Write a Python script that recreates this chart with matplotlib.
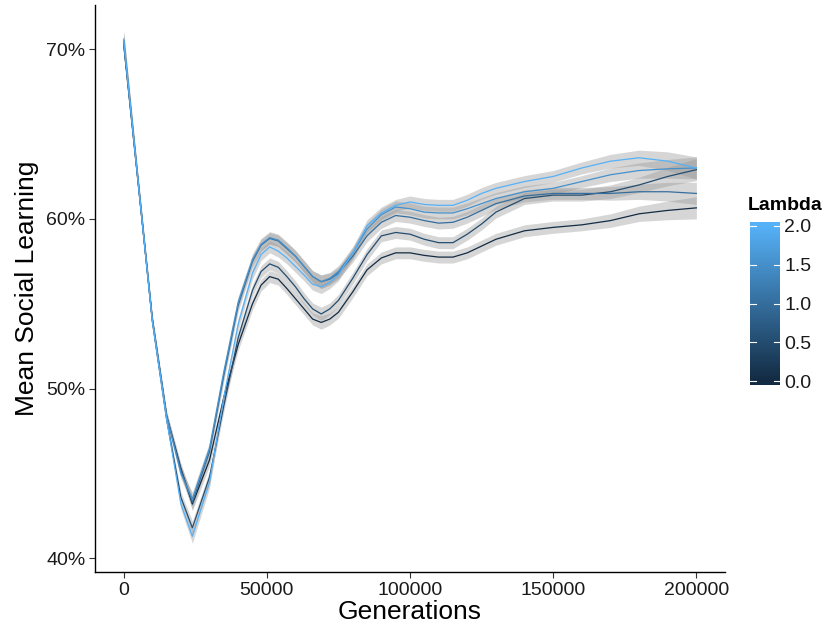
import numpy as np
import matplotlib
matplotlib.use("Agg")
import matplotlib.pyplot as plt
from matplotlib.colors import LinearSegmentedColormap, Normalize
from matplotlib.ticker import FuncFormatter

plt.rcParams["font.family"] = ["Liberation Sans", "DejaVu Sans"]

# generations (x) at which the smoothed curves were read
generations = [0, 5000, 10000, 15000, 20000, 24000, 30000, 35000, 40000, 45000,
               48000, 51000, 54000, 57000, 60000, 63000, 66000, 69000, 72000, 75000,
               80000, 85000, 90000, 95000, 100000, 105000, 110000, 115000, 120000,
               125000, 130000, 140000, 150000, 160000, 170000, 180000, 190000, 200000]

lambdas = [0.0, 0.5, 1.0, 1.5, 2.0]

# mean social learning (%) per lambda
sl_0_0 = [70.3, 62.2, 54.1, 48.4, 45.3, 43.2, 45.8, 49.5, 52.6, 55.0,
          56.1, 56.6, 56.45, 55.9, 55.3, 54.7, 54.1, 53.9, 54.1, 54.5,
          55.7, 57.0, 57.7, 58.0, 58.0, 57.85, 57.75, 57.75, 58.0,
          58.4, 58.8, 59.3, 59.5, 59.65, 59.9, 60.3, 60.5, 60.65]
sl_0_5 = [70.5, 62.3, 54.0, 48.2, 43.6, 41.8, 44.8, 49.0, 53.0, 55.8,
          56.9, 57.35, 57.15, 56.6, 56.0, 55.3, 54.7, 54.4, 54.7, 55.2,
          56.5, 57.9, 59.0, 59.2, 59.1, 58.8, 58.6, 58.6, 59.1,
          59.7, 60.4, 61.2, 61.4, 61.4, 61.6, 62.0, 62.5, 62.9]
sl_1_0 = [70.4, 62.3, 54.1, 48.4, 45.2, 43.3, 46.3, 50.8, 54.9, 57.5,
          58.45, 58.85, 58.7, 58.25, 57.8, 57.2, 56.6, 56.3, 56.45, 56.8,
          57.8, 59.0, 59.8, 60.2, 60.1, 59.9, 59.75, 59.8, 60.1,
          60.5, 60.9, 61.35, 61.5, 61.5, 61.5, 61.6, 61.6, 61.5]
sl_1_5 = [70.5, 62.3, 54.1, 48.4, 45.0, 43.5, 46.5, 51.0, 55.1, 57.6,
          58.5, 58.9, 58.75, 58.3, 57.8, 57.2, 56.6, 56.3, 56.5, 56.9,
          58.0, 59.4, 60.25, 60.7, 60.6, 60.4, 60.35, 60.35, 60.6,
          60.9, 61.2, 61.6, 61.8, 62.2, 62.6, 62.85, 62.95, 63.0]
sl_2_0 = [70.6, 62.3, 54.0, 48.2, 43.2, 41.3, 44.5, 49.5, 53.8, 56.8,
          57.9, 58.35, 58.1, 57.7, 57.2, 56.7, 56.15, 56.0, 56.25, 56.7,
          58.0, 59.6, 60.35, 60.8, 61.0, 60.85, 60.8, 60.8, 61.1,
          61.5, 61.8, 62.2, 62.5, 63.0, 63.4, 63.6, 63.4, 63.0]

# half width of the confidence ribbon (%)
ribbon_half = [0.5, 0.3, 0.25, 0.25, 0.3, 0.4, 0.35, 0.35, 0.35, 0.35,
               0.35, 0.35, 0.35, 0.35, 0.35, 0.35, 0.35, 0.4, 0.35, 0.35,
               0.35, 0.35, 0.35, 0.35, 0.35, 0.35, 0.35, 0.35, 0.35,
               0.35, 0.35, 0.35, 0.35, 0.35, 0.4, 0.45, 0.55, 0.65]

series = [sl_0_0, sl_0_5, sl_1_0, sl_1_5, sl_2_0]

cmap = LinearSegmentedColormap.from_list("lam", ["#132B43", "#56B1F7"])
norm = Normalize(0, 2)

fig = plt.figure(figsize=(8.4, 6.37), dpi=100)
ax = fig.add_axes([95 / 840, 65 / 637, 630 / 840, 567 / 637])

x = np.array(generations)
hw = np.array(ribbon_half)
for lam, vals in zip(lambdas, series):
    y = np.array(vals)
    ax.fill_between(x, y - hw, y + hw, color="#999999", alpha=0.4, linewidth=0)
    ax.plot(x, y, color=cmap(norm(lam)), linewidth=0.9)

ax.set_xlim(-10000, 210000)
ax.set_ylim(39.2, 72.6)
ax.set_xticks([0, 50000, 100000, 150000, 200000])
ax.set_yticks([40, 50, 60, 70])
ax.yaxis.set_major_formatter(FuncFormatter(lambda v, p: f"{v:.0f}%"))
for s in ["top", "right"]:
    ax.spines[s].set_visible(False)
for s in ["left", "bottom"]:
    ax.spines[s].set_linewidth(1.0)
ax.tick_params(direction="out", length=4, width=0.8, color="#333333",
               labelsize=14, labelcolor="#1a1a1a", pad=3)
ax.set_xlabel("Generations", fontsize=19, labelpad=1)
ax.set_ylabel("Mean Social Learning", fontsize=19, labelpad=5)

# colour bar legend
cax = fig.add_axes([750 / 840, (637 - 385) / 637, 30 / 840, 163 / 637])
grad = np.linspace(2.05, -0.05, 200).reshape(-1, 1)
cax.imshow(np.clip(grad, 0, 2), aspect="auto", cmap=cmap, norm=norm,
           extent=[0, 1, -0.05, 2.05])
cax.set_xlim(0, 1)
cax.set_ylim(-0.05, 2.05)
cax.set_xticks([])
for s in cax.spines.values():
    s.set_visible(False)
cbar_ticks = [0.0, 0.5, 1.0, 1.5, 2.0]
cax.set_yticks(cbar_ticks)
cax.set_yticklabels([f"{t:.1f}" for t in cbar_ticks])
cax.yaxis.tick_right()
for t in cbar_ticks:
    cax.plot([0, 0.2], [t, t], color="white", linewidth=0.8)
    cax.plot([0.8, 1], [t, t], color="white", linewidth=0.8)
cax.tick_params(axis="y", length=0, labelsize=14, labelcolor="#1a1a1a", pad=3)
fig.text(748 / 840, (637 - 206) / 637, "Lambda", fontsize=14, fontweight="bold",
         ha="left", va="center")

fig.savefig("out.png", dpi=100)
